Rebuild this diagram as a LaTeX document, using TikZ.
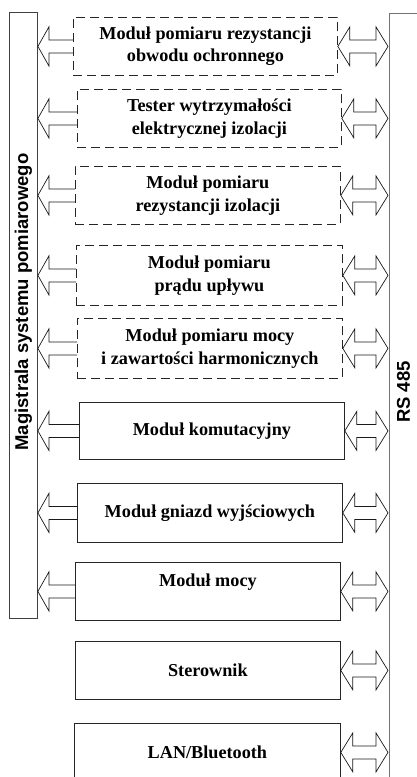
\documentclass[tikz,border=0pt]{standalone}
\usepackage{fontspec}
\setmainfont{Liberation Serif}
\newfontfamily\arialfont{Liberation Sans}
\usetikzlibrary{calc}
\begin{document}
\begin{tikzpicture}[x=1pt,y=-1pt,
  modbox/.style={draw=black!85,line width=0.8pt,anchor=north west,inner sep=0pt,
    align=center,font=\fontsize{18.2}{22.5}\selectfont\bfseries},
  dashbox/.style={modbox,dash pattern=on 9pt off 5pt},
  arr/.style={draw=black!90,line width=0.7pt,line join=miter},
  lbusbox/.style={draw=black!75,line width=0.9pt,anchor=north west,inner sep=0pt},
  rbusbox/.style={draw=black!55,line width=1.2pt,anchor=north west,inner sep=0pt},
  buslabel/.style={font=\arialfont\bfseries\fontsize{18.5}{22}\selectfont,rotate=90,inner sep=0pt}]
\useasboundingbox (0,0) rectangle (416,777);
% buses
\node[lbusbox,minimum width=28pt,minimum height=606pt] (lbus) at (9,12) {};
\node[rbusbox,minimum width=40pt,minimum height=764pt] (rbus) at (389,12.5) {};
\node[buslabel] (lbl) at (23.5,302) {Magistrala systemu pomiarowego};
\node[buslabel] (rbl) at (403.5,392) {RS 485};
% modules
\node[dashbox,minimum width=264pt,minimum height=58pt] (b1) at (73,17) {Moduł pomiaru rezystancji\\obwodu ochronnego};
\node[dashbox,minimum width=264pt,minimum height=58pt] (b2) at (77,89) {Tester wytrzymałości\\elektrycznej izolacji};
\node[dashbox,minimum width=265pt,minimum height=58pt] (b3) at (75,166) {Moduł pomiaru\\rezystancji izolacji};
\node[dashbox,minimum width=266pt,minimum height=60pt] (b4) at (76,245) {Moduł pomiaru\\prądu upływu};
\node[dashbox,minimum width=265pt,minimum height=60pt] (b5) at (77,318) {Moduł pomiaru mocy\\i zawartości harmonicznych};
\node[modbox,minimum width=265pt,minimum height=57pt] (b6) at (79,402) {Moduł komutacyjny};
\node[modbox,minimum width=265pt,minimum height=59pt] (b7) at (77,483) {Moduł gniazd wyjściowych};
\node[modbox,minimum width=265pt,minimum height=58pt] (b8) at (75,562) {Moduł mocy\\\mbox{}};
\node[modbox,minimum width=265pt,minimum height=58pt] (b9) at (75,641) {Sterownik};
\node[modbox,minimum width=266pt,minimum height=58pt] (b10) at (74,723) {LAN/Bluetooth};
% arrows to the measurement bus
\foreach \b in {b1,b2,b3,b4,b5,b6,b7,b8}{
  \draw[arr] ($(\b.west)+(0,-6.5)$) -- ($(\b.west -| lbus.east)+(11,-6.5)$) -- ++(0,-13)
    -- (\b.west -| lbus.east) -- ++(11,19.5) -- ++(0,-13) -- ($(\b.west)+(0,6.5)$);
}
% double arrows to RS 485
\foreach \b in {b1,b2,b3,b4,b5,b6,b7,b8,b9,b10}{
  \draw[arr] (\b.east) -- ++(12,-19.5) -- ++(0,13)
    -- ($(\b.east -| rbus.west)+(-13,-6.5)$) -- ++(0,-13)
    -- ($(\b.east -| rbus.west)+(-1,0)$) -- ++(-12,19.5) -- ++(0,-13)
    -- ($(\b.east)+(12,6.5)$) -- ++(0,13) -- cycle;
}
\end{tikzpicture}
\end{document}
